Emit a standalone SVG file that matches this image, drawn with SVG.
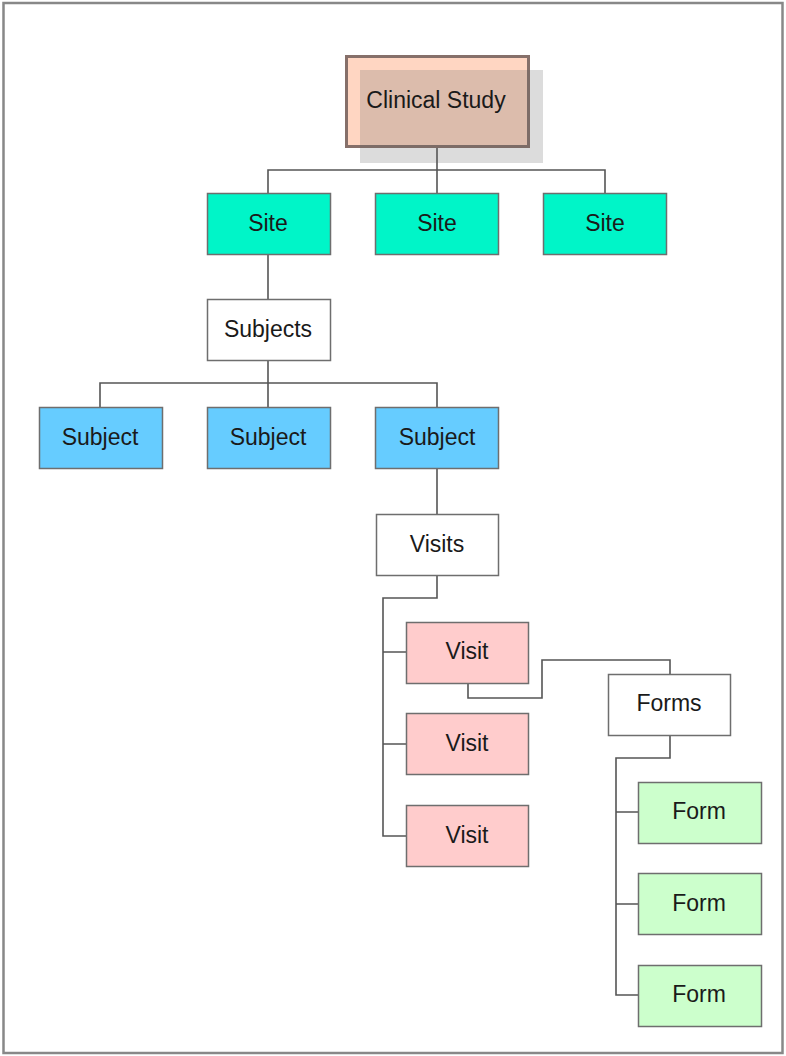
<svg xmlns="http://www.w3.org/2000/svg" width="786" height="1056" viewBox="0 0 786 1056">
<style>
.box{stroke:#6e6e6e;stroke-width:1.5}
.lbl{font-family:"Liberation Sans",Arial,sans-serif;font-size:23px;fill:#1a1a1a;text-anchor:middle}
.c{fill:none;stroke:#555;stroke-width:1.6}
</style>
<rect x="0" y="0" width="786" height="1056" fill="#fff"/>
<rect x="3.5" y="3" width="779" height="1050" fill="none" stroke="#888" stroke-width="2.5"/>
<g id="connectors">
<path class="c" d="M437 147V170M268 193V170H605V193M437 170V193"/>
<path class="c" d="M268 255V299M268 361V383M100 407V383H437V407M268 383V407"/>
<path class="c" d="M437 469V514M437 576V598H383V836H406M383 652H406M383 744H406"/>
<path class="c" d="M468 683V698H542V660H670V674"/>
<path class="c" d="M670 736V758H616V995H638M616 812H638M616 904H638"/>
</g>
<g id="clinical-study">
<rect x="346.5" y="56.5" width="182" height="90" fill="#ffd6c2" stroke="#86706a" stroke-width="3"/>
<rect x="360" y="70" width="183" height="93" fill="#606060" fill-opacity="0.22"/>
<text class="lbl" x="436" y="108">Clinical Study</text>
</g>
<g id="site1"><rect class="box" x="207.5" y="193.5" width="123" height="61" fill="#00f5c8"/><text class="lbl" x="268" y="231">Site</text></g>
<g id="site2"><rect class="box" x="375.5" y="193.5" width="123" height="61" fill="#00f5c8"/><text class="lbl" x="437" y="231">Site</text></g>
<g id="site3"><rect class="box" x="543.5" y="193.5" width="123" height="61" fill="#00f5c8"/><text class="lbl" x="605" y="231">Site</text></g>
<g id="subjects"><rect class="box" x="207.5" y="299.5" width="123" height="61" fill="#fff"/><text class="lbl" x="268" y="337">Subjects</text></g>
<g id="subject1"><rect class="box" x="39.5" y="407.5" width="123" height="61" fill="#66ccff"/><text class="lbl" x="100" y="445">Subject</text></g>
<g id="subject2"><rect class="box" x="207.5" y="407.5" width="123" height="61" fill="#66ccff"/><text class="lbl" x="268" y="445">Subject</text></g>
<g id="subject3"><rect class="box" x="375.5" y="407.5" width="123" height="61" fill="#66ccff"/><text class="lbl" x="437" y="445">Subject</text></g>
<g id="visits"><rect class="box" x="376.5" y="514.5" width="122" height="61" fill="#fff"/><text class="lbl" x="437" y="552">Visits</text></g>
<g id="visit1"><rect class="box" x="406.5" y="622.5" width="122" height="61" fill="#ffcccc"/><text class="lbl" x="467" y="659">Visit</text></g>
<g id="visit2"><rect class="box" x="406.5" y="713.5" width="122" height="61" fill="#ffcccc"/><text class="lbl" x="467" y="751">Visit</text></g>
<g id="visit3"><rect class="box" x="406.5" y="805.5" width="122" height="61" fill="#ffcccc"/><text class="lbl" x="467" y="843">Visit</text></g>
<g id="forms"><rect class="box" x="608.5" y="674.5" width="122" height="61" fill="#fff"/><text class="lbl" x="669" y="711">Forms</text></g>
<g id="form1"><rect class="box" x="638.5" y="782.5" width="123" height="61" fill="#ccffcc"/><text class="lbl" x="699" y="819">Form</text></g>
<g id="form2"><rect class="box" x="638.5" y="873.5" width="123" height="61" fill="#ccffcc"/><text class="lbl" x="699" y="911">Form</text></g>
<g id="form3"><rect class="box" x="638.5" y="965.5" width="123" height="61" fill="#ccffcc"/><text class="lbl" x="699" y="1002">Form</text></g>
</svg>
